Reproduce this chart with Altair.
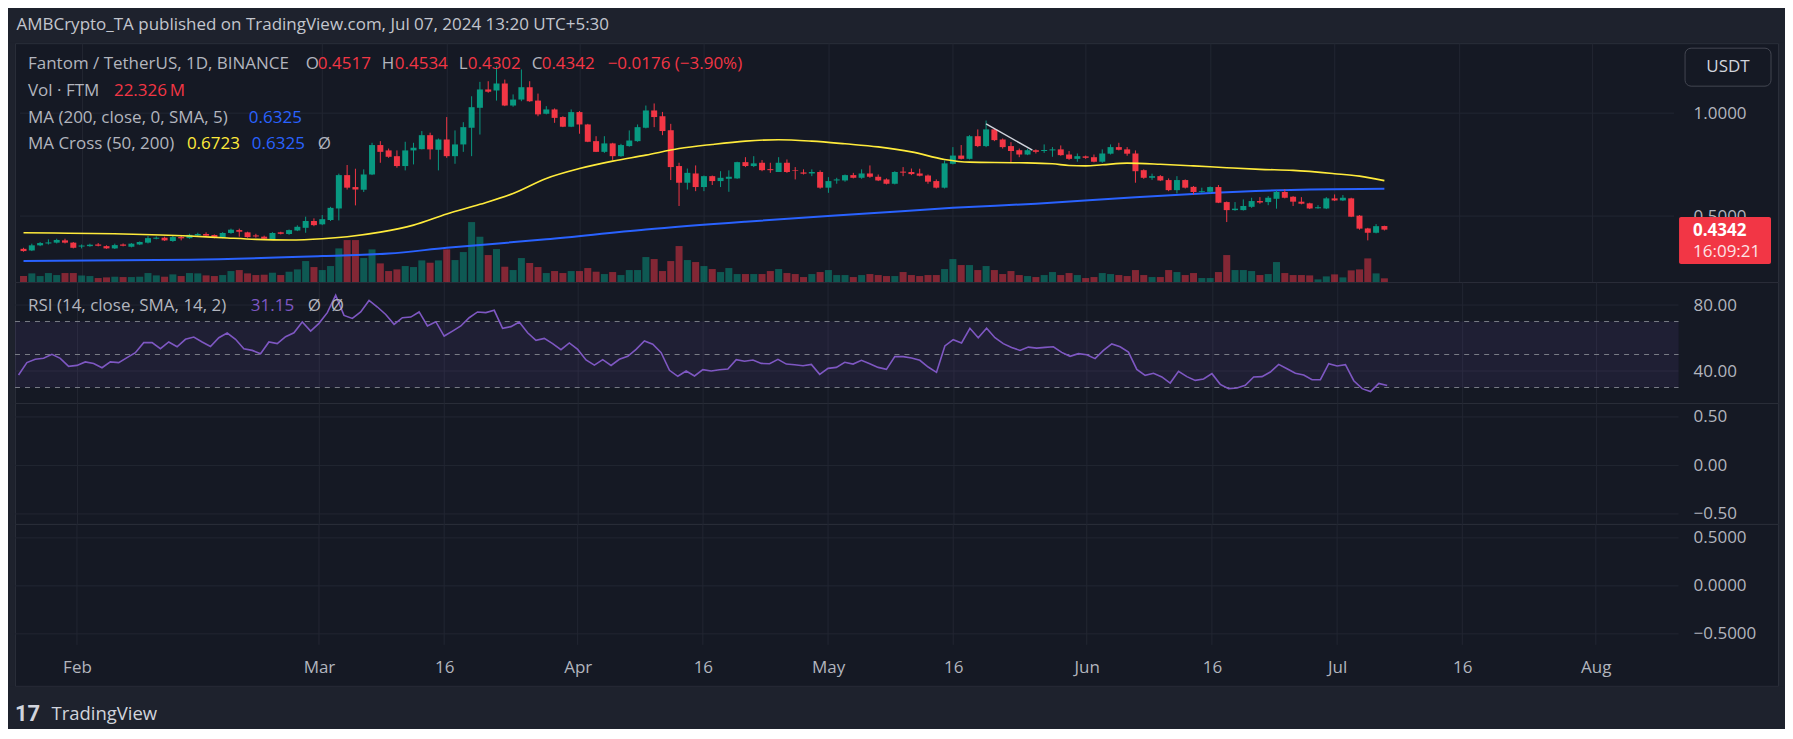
import altair as alt
import pandas as pd

# ---------------- data ----------------
START_DATE = "2024-01-25"

OPEN = [
    0.341, 0.333, 0.358, 0.367, 0.371, 0.382, 0.371, 0.352, 0.354, 0.362,
    0.354, 0.343, 0.362, 0.351, 0.362, 0.371, 0.390, 0.395, 0.379, 0.398,
    0.393, 0.406, 0.413, 0.408, 0.395, 0.418, 0.432, 0.421, 0.406, 0.400,
    0.387, 0.421, 0.413, 0.430, 0.443, 0.476, 0.460, 0.481, 0.537, 0.699,
    0.641, 0.628, 0.702, 0.845, 0.819, 0.791, 0.743, 0.819, 0.825, 0.893,
    0.822, 0.872, 0.791, 0.848, 0.929, 1.026, 1.115, 1.110, 1.144, 1.037,
    1.066, 1.126, 1.061, 0.997, 1.018, 0.981, 0.934, 1.005, 0.945, 0.864,
    0.812, 0.853, 0.791, 0.840, 0.864, 0.929, 1.013, 0.985, 0.917, 0.743,
    0.662, 0.707, 0.641, 0.694, 0.670, 0.681, 0.683, 0.762, 0.743, 0.759,
    0.728, 0.714, 0.759, 0.723, 0.712, 0.707, 0.714, 0.638, 0.673, 0.673,
    0.699, 0.686, 0.707, 0.691, 0.678, 0.657, 0.716, 0.714, 0.707, 0.697,
    0.670, 0.638, 0.754, 0.794, 0.778, 0.888, 0.840, 0.921, 0.872, 0.840,
    0.820, 0.799, 0.820, 0.816, 0.819, 0.824, 0.799, 0.778, 0.790, 0.786,
    0.764, 0.803, 0.835, 0.824, 0.804, 0.723, 0.686, 0.694, 0.675, 0.626,
    0.675, 0.642, 0.617, 0.618, 0.641, 0.568, 0.529, 0.529, 0.545, 0.573,
    0.568, 0.584, 0.617, 0.594, 0.570, 0.562, 0.538, 0.537, 0.586, 0.576,
    0.586, 0.502, 0.440, 0.419, 0.4517]

CLOSE = [
    0.330, 0.358, 0.369, 0.372, 0.384, 0.371, 0.346, 0.357, 0.361, 0.356,
    0.343, 0.359, 0.356, 0.366, 0.374, 0.393, 0.395, 0.382, 0.398, 0.392,
    0.409, 0.413, 0.405, 0.395, 0.418, 0.434, 0.424, 0.398, 0.401, 0.390,
    0.418, 0.414, 0.432, 0.448, 0.476, 0.456, 0.485, 0.540, 0.699, 0.638,
    0.629, 0.702, 0.845, 0.812, 0.788, 0.743, 0.819, 0.832, 0.893, 0.824,
    0.872, 0.791, 0.848, 0.932, 1.029, 1.115, 1.104, 1.144, 1.037, 1.066,
    1.126, 1.058, 0.994, 1.018, 0.977, 0.934, 1.005, 0.945, 0.861, 0.812,
    0.853, 0.791, 0.845, 0.867, 0.932, 1.013, 0.981, 0.913, 0.738, 0.662,
    0.710, 0.641, 0.694, 0.670, 0.686, 0.691, 0.762, 0.743, 0.756, 0.723,
    0.723, 0.759, 0.714, 0.720, 0.706, 0.714, 0.638, 0.670, 0.678, 0.699,
    0.686, 0.707, 0.691, 0.673, 0.657, 0.714, 0.711, 0.704, 0.696, 0.667,
    0.638, 0.756, 0.794, 0.778, 0.888, 0.840, 0.921, 0.869, 0.835, 0.816,
    0.799, 0.820, 0.812, 0.821, 0.824, 0.796, 0.778, 0.791, 0.783, 0.764,
    0.804, 0.835, 0.822, 0.803, 0.718, 0.686, 0.694, 0.673, 0.626, 0.675,
    0.638, 0.617, 0.621, 0.641, 0.565, 0.529, 0.536, 0.549, 0.573, 0.566,
    0.589, 0.617, 0.589, 0.570, 0.560, 0.537, 0.543, 0.586, 0.576, 0.589,
    0.497, 0.439, 0.419, 0.451, 0.4342]

HIGH = [
    0.346, 0.366, 0.374, 0.387, 0.390, 0.390, 0.374, 0.362, 0.366, 0.369,
    0.358, 0.366, 0.367, 0.369, 0.377, 0.403, 0.401, 0.400, 0.405, 0.405,
    0.414, 0.419, 0.421, 0.411, 0.422, 0.439, 0.439, 0.424, 0.414, 0.405,
    0.422, 0.424, 0.435, 0.455, 0.497, 0.489, 0.505, 0.545, 0.706, 0.748,
    0.730, 0.727, 0.856, 0.864, 0.828, 0.819, 0.861, 0.856, 0.913, 0.905,
    0.877, 0.981, 0.916, 0.956, 1.082, 1.152, 1.155, 1.228, 1.163, 1.091,
    1.212, 1.155, 1.095, 1.034, 1.023, 0.985, 1.018, 1.010, 0.948, 0.888,
    0.888, 0.856, 0.851, 0.916, 0.945, 1.037, 1.047, 1.006, 0.948, 0.759,
    0.731, 0.746, 0.697, 0.697, 0.718, 0.722, 0.764, 0.786, 0.791, 0.772,
    0.759, 0.786, 0.775, 0.738, 0.727, 0.727, 0.722, 0.689, 0.686, 0.702,
    0.710, 0.727, 0.746, 0.702, 0.683, 0.718, 0.738, 0.731, 0.730, 0.702,
    0.678, 0.770, 0.835, 0.845, 0.893, 0.921, 0.964, 0.924, 0.877, 0.859,
    0.828, 0.827, 0.824, 0.848, 0.835, 0.843, 0.816, 0.804, 0.794, 0.799,
    0.824, 0.848, 0.856, 0.835, 0.819, 0.727, 0.706, 0.699, 0.683, 0.694,
    0.678, 0.646, 0.638, 0.644, 0.651, 0.571, 0.568, 0.581, 0.589, 0.592,
    0.597, 0.625, 0.630, 0.597, 0.592, 0.565, 0.553, 0.592, 0.605, 0.602,
    0.589, 0.505, 0.443, 0.461, 0.4534]

LOW = [
    0.327, 0.330, 0.354, 0.362, 0.367, 0.367, 0.343, 0.343, 0.351, 0.353,
    0.341, 0.340, 0.353, 0.348, 0.359, 0.367, 0.387, 0.379, 0.375, 0.382,
    0.390, 0.403, 0.401, 0.392, 0.392, 0.414, 0.400, 0.395, 0.395, 0.387,
    0.384, 0.411, 0.409, 0.427, 0.419, 0.451, 0.456, 0.476, 0.479, 0.629,
    0.552, 0.617, 0.699, 0.759, 0.783, 0.735, 0.722, 0.751, 0.824, 0.775,
    0.722, 0.783, 0.754, 0.812, 0.791, 0.896, 1.099, 1.061, 1.034, 1.031,
    1.058, 1.055, 0.985, 0.994, 0.953, 0.932, 0.932, 0.900, 0.859, 0.811,
    0.807, 0.773, 0.788, 0.837, 0.861, 0.926, 0.932, 0.893, 0.675, 0.549,
    0.629, 0.621, 0.621, 0.651, 0.641, 0.618, 0.681, 0.738, 0.738, 0.718,
    0.710, 0.714, 0.710, 0.678, 0.702, 0.694, 0.633, 0.613, 0.657, 0.667,
    0.683, 0.681, 0.686, 0.670, 0.654, 0.654, 0.694, 0.699, 0.693, 0.657,
    0.634, 0.634, 0.751, 0.775, 0.775, 0.835, 0.835, 0.864, 0.828, 0.762,
    0.786, 0.796, 0.804, 0.807, 0.788, 0.793, 0.773, 0.764, 0.778, 0.761,
    0.759, 0.799, 0.819, 0.793, 0.662, 0.681, 0.676, 0.670, 0.621, 0.610,
    0.634, 0.605, 0.613, 0.613, 0.563, 0.471, 0.526, 0.527, 0.540, 0.560,
    0.553, 0.536, 0.586, 0.549, 0.557, 0.534, 0.536, 0.534, 0.573, 0.573,
    0.495, 0.434, 0.382, 0.416, 0.4302]

VOLUME = [  # millions of FTM
    36, 52, 36, 54, 42, 54, 54, 40, 36, 24,
    28, 32, 30, 30, 32, 54, 40, 32, 46, 36,
    54, 52, 40, 36, 42, 66, 72, 52, 42, 44,
    56, 42, 62, 76, 126, 90, 72, 96, 202, 252,
    252, 144, 196, 112, 66, 76, 96, 90, 130, 116,
    130, 196, 132, 180, 360, 272, 162, 198, 92, 72,
    144, 114, 90, 54, 66, 54, 66, 66, 84, 62,
    48, 60, 42, 72, 72, 150, 138, 66, 126, 216,
    132, 120, 96, 78, 60, 84, 48, 48, 48, 48,
    66, 78, 54, 48, 30, 48, 60, 72, 42, 42,
    30, 42, 48, 42, 36, 36, 60, 42, 36, 42,
    42, 78, 138, 102, 102, 72, 96, 72, 48, 66,
    42, 36, 30, 42, 60, 42, 54, 42, 24, 30,
    54, 48, 42, 36, 72, 42, 30, 30, 72, 60,
    42, 54, 24, 24, 60, 162, 72, 72, 66, 42,
    48, 120, 54, 42, 42, 40, 16, 34, 46, 28,
    70, 76, 142, 52, 22.326]

RSI = [
    37.6, 45.1, 47.1, 47.7, 50.1, 47.7, 42.8, 43.4, 45.5, 44.6,
    42.0, 45.5, 45.1, 48.1, 51.1, 57.2, 57.2, 53.5, 57.6, 54.7,
    59.2, 60.6, 57.6, 54.9, 60.2, 63.0, 59.2, 53.5, 52.5, 50.5,
    57.6, 56.6, 60.8, 63.2, 69.7, 64.2, 68.9, 75.4, 85.9, 73.7,
    71.9, 75.8, 82.8, 78.8, 74.3, 68.3, 72.3, 72.7, 75.8, 67.3,
    69.9, 61.2, 64.2, 67.3, 72.3, 75.8, 75.4, 76.8, 65.9, 66.9,
    69.7, 63.2, 58.6, 59.8, 56.6, 52.9, 57.0, 53.1, 46.7, 43.6,
    46.9, 43.4, 47.1, 48.9, 53.1, 58.2, 56.2, 51.1, 40.4, 36.8,
    40.0, 37.0, 40.8, 40.0, 40.8, 41.2, 46.9, 45.9, 46.7, 44.6,
    44.4, 47.1, 44.2, 43.8, 43.2, 44.0, 38.0, 41.6, 42.2, 45.3,
    44.2, 46.5, 44.4, 42.2, 41.0, 48.7, 48.7, 47.9, 46.5, 42.4,
    39.2, 55.2, 59.0, 57.0, 65.9, 60.2, 65.9, 60.2, 56.6, 54.3,
    52.5, 54.5, 53.9, 54.3, 54.7, 51.3, 48.9, 50.5, 49.9, 47.5,
    52.5, 56.4, 54.7, 51.5, 41.0, 37.4, 38.6, 36.4, 32.7, 39.8,
    36.6, 34.3, 35.2, 38.4, 31.9, 29.3, 29.7, 31.3, 36.4, 36.6,
    39.4, 44.0, 41.4, 38.6, 37.6, 34.7, 34.7, 44.4, 43.0, 43.8,
    34.1, 29.3, 27.5, 32.5, 31.15]

# moving averages read at sample candles (index into the candle list)
MA50_IDX = [0, 12, 20, 24, 28, 32, 36, 39, 43, 47, 51, 55, 59, 63, 67, 71, 75, 79, 83, 87,
            91, 95, 99, 103, 107, 111, 114, 120, 124, 126, 128, 130, 133, 137, 141, 145,
            149, 153, 158, 161, 164]
MA50_VAL = [0.419, 0.413, 0.403, 0.395, 0.387, 0.384, 0.390, 0.400, 0.422, 0.456, 0.510,
            0.557, 0.610, 0.683, 0.731, 0.767, 0.796, 0.828, 0.848, 0.864, 0.871, 0.864,
            0.851, 0.836, 0.812, 0.775, 0.762, 0.759, 0.754, 0.746, 0.744, 0.749, 0.757,
            0.752, 0.744, 0.735, 0.727, 0.722, 0.706, 0.694, 0.6723]
MA200_IDX = [0, 20, 36, 44, 51, 63, 75, 87, 103, 112, 122, 134, 142, 155, 164]
MA200_VAL = [0.282, 0.288, 0.306, 0.318, 0.346, 0.387, 0.435, 0.473, 0.516, 0.540, 0.560,
             0.592, 0.610, 0.629, 0.6325]

TREND_DATES = ["2024-05-20T00:00:00Z", "2024-05-25T14:00:00Z"]
TREND_PRICE = [0.948, 0.820]

X_TICKS = ["2024-02-01", "2024-03-01", "2024-03-16", "2024-04-01", "2024-04-16", "2024-05-01",
           "2024-05-16", "2024-06-01", "2024-06-16", "2024-07-01", "2024-07-16", "2024-08-01"]
PRICE_TICKS = [1.0, 0.5]
RSI_TICKS = [80, 40]
RSI_LEVELS = [70, 50, 30]
OSC_TICKS = [0.5, 0.0, -0.5]

# ---------------- tables ----------------
DATES = pd.date_range(START_DATE, periods=len(CLOSE), freq="D").strftime("%Y-%m-%d").tolist()
df = pd.DataFrame({"date": DATES, "open": OPEN, "high": HIGH, "low": LOW,
                   "close": CLOSE, "volume": VOLUME, "rsi": RSI})
df["dir"] = ["up" if c >= o else "down" for o, c in zip(OPEN, CLOSE)]
ma50_df = pd.DataFrame({"date": [DATES[i] for i in MA50_IDX], "value": MA50_VAL})
ma200_df = pd.DataFrame({"date": [DATES[i] for i in MA200_IDX], "value": MA200_VAL})
trend_df = pd.DataFrame({"date": TREND_DATES, "price": TREND_PRICE})

# ---------------- style ----------------
BG = "#1e222d"
PANE = "#151924"
GRID = "#222632"
SEP = "#2a2e39"
LEG = "#b2b5be"
HEAD = "#c3c6ce"
AX = "#b2b5be"
UP = "#089981"
DOWN = "#f23645"
YEL = "#ffeb3b"
BLUE = "#2962ff"
PURP = "#7e57c2"
FONT = "Open Sans"

W = 1764
H_A, H_B, H_C, H_D = 239, 121, 121, 162


def dt(s):
    y, m, d = s[:10].split("-")
    return alt.DateTime(year=int(y), month=int(m), date=int(d), utc=True)


XSCALE = alt.Scale(type="utc", domain=[
    alt.DateTime(year=2024, month=1, date=24, hours=13, minutes=48, utc=True),
    alt.DateTime(year=2024, month=8, date=22, hours=20, utc=True)])
XVALS = [dt(s) for s in X_TICKS]
GRID_START = "2024-01-24T13:48:00Z"
GRID_END = "2024-08-10T22:00:00Z"

AX_X_GRID = alt.Axis(values=XVALS, grid=True, gridColor=GRID, gridWidth=1, labels=False,
                     ticks=False, domain=False, title=None)
AX_X_LAB = alt.Axis(values=XVALS, grid=False, labels=True, ticks=False, tickSize=0, domain=False,
                    title=None, offset=-41, labelPadding=23, labelBaseline="middle",
                    labelExpr="utcdate(datum.value) == 1 ? utcFormat(datum.value, '%b') : utcFormat(datum.value, '%-d')",
                    labelColor=AX, labelFont=FONT, labelFontSize=17, labelFlush=False,
                    labelOverlap=False)


def yaxis(vals, fmt):
    return alt.Axis(values=vals, format=fmt, orient="right", offset=-99, labelPadding=14,
                    ticks=False, domain=False, grid=False, title=None, labelColor=AX,
                    labelFont=FONT, labelFontSize=17, labelBaseline="middle",
                    labelFlush=False, labelOverlap=False)


PRICE_SCALE = alt.Scale(domain=[0.1796, 1.3398], nice=False, zero=False)
VOL_SCALE = alt.Scale(domain=[0, 1434], nice=False, zero=True)
RSI_SCALE = alt.Scale(domain=[20.61, 93.94], nice=False, zero=False)
OSC_SCALE = alt.Scale(domain=[-0.603, 0.644], nice=False, zero=False)
OSC2_SCALE = alt.Scale(domain=[-1.0417, 0.6458], nice=False, zero=False)
DIR_SCALE = alt.Scale(domain=["up", "down"], range=[UP, DOWN])


def txt(text, x, y, color=LEG, size=17, weight="normal", align="left", font=FONT):
    return (alt.Chart(pd.DataFrame({"t": [text]}))
            .mark_text(align=align, baseline="middle", font=font, fontSize=size,
                       fontWeight=weight, color=color)
            .encode(x=alt.value(x), y=alt.value(y), text="t:N"))


def box(x, x2, y, y2, fill, stroke=None, radius=0):
    kw = dict(fill=fill, cornerRadius=radius)
    if stroke is not None:
        kw.update(stroke=stroke, strokeWidth=1)
    return (alt.Chart(pd.DataFrame({"a": [0]})).mark_rect(**kw)
            .encode(x=alt.value(x), x2=alt.value(x2), y=alt.value(y), y2=alt.value(y2)))


def hgrid(levels, yscale, axis, xaxis):
    d = pd.DataFrame({"level": levels, "x0": GRID_START, "x1": GRID_END})
    return (alt.Chart(d).mark_rule(color=GRID, strokeWidth=1)
            .encode(x=alt.X("x0:T", scale=XSCALE, axis=xaxis), x2=alt.X2("x1"),
                    y=alt.Y("level:Q", scale=yscale, axis=axis)))


def X(field="date"):
    return alt.X(f"{field}:T", scale=XSCALE, axis=AX_X_GRID)


def PY(field):
    return alt.Y(f"{field}:Q", scale=PRICE_SCALE, axis=None)


COLOR = alt.Color("dir:N", scale=DIR_SCALE, legend=None)

# ---------------- pane A: price + volume ----------------
gridA = hgrid(PRICE_TICKS, PRICE_SCALE, yaxis(PRICE_TICKS, ".4f"), AX_X_GRID)
vol = (alt.Chart(df).mark_bar(size=7, opacity=0.5)
       .encode(x=X(), y=alt.Y("volume:Q", scale=VOL_SCALE, axis=None), color=COLOR))
ma200 = (alt.Chart(ma200_df).mark_line(color=BLUE, strokeWidth=2, interpolate="monotone")
         .encode(x=X(), y=PY("value")))
ma50 = (alt.Chart(ma50_df).mark_line(color=YEL, strokeWidth=1.6, interpolate="monotone")
        .encode(x=X(), y=PY("value")))
wicks = (alt.Chart(df).mark_rule(strokeWidth=1)
         .encode(x=X(), y=PY("low"), y2=alt.Y2("high"), color=COLOR))
bodies = (alt.Chart(df).mark_bar(size=6)
          .encode(x=X(), y=PY("open"), y2=alt.Y2("close"), color=COLOR))
trend = (alt.Chart(trend_df).mark_line(color="#d1d4dc", strokeWidth=1.5)
         .encode(x=X(), y=PY("price")))

textsA = [
    box(-6, 1770, -34, -1, BG),
    txt("AMBCrypto_TA published on TradingView.com, Jul 07, 2024 13:20 UTC+5:30", 1.5, -18, HEAD),
    txt("Fantom / TetherUS, 1D, BINANCE", 13, 21),
    txt("O", 291, 21), txt("0.4517", 303, 21, DOWN),
    txt("H", 367, 21), txt("0.4534", 380, 21, DOWN),
    txt("L", 444, 21), txt("0.4302", 453, 21, DOWN),
    txt("C", 517, 21), txt("0.4342", 527, 21, DOWN),
    txt("\u22120.0176 (\u22123.90%)", 593, 21, DOWN),
    txt("Vol \u00b7 FTM", 13, 48), txt("22.326\u2009M", 99, 48, DOWN),
    txt("MA (200, close, 0, SMA, 5)", 13, 75), txt("0.6325", 234, 75, BLUE),
    txt("MA Cross (50, 200)", 13, 101), txt("0.6723", 172, 101, YEL),
    txt("0.6325", 237, 101, BLUE), txt("\u00d8", 303, 101),
    box(1671, 1757, 5, 43, PANE, stroke="#434651", radius=6),
    txt("USDT", 1714, 24, "#d1d4dc", align="center"),
    box(1665, 1757, 174, 221, DOWN, radius=2),
    txt("0.4342", 1679, 188, "#ffffff", weight="bold"),
    txt("16:09:21", 1679, 209, "#fde3e5"),
]

price_group = alt.layer(ma200, wicks, bodies, ma50, trend, *textsA)
paneA = (alt.layer(gridA, vol, price_group).resolve_scale(y="independent")
         .properties(width=W, height=H_A))

# ---------------- pane B: RSI ----------------
RSI_AXIS = yaxis(RSI_TICKS, ".2f")


def RY(field):
    return alt.Y(f"{field}:Q", scale=RSI_SCALE, axis=RSI_AXIS)


gridB = hgrid(RSI_TICKS, RSI_SCALE, RSI_AXIS, AX_X_GRID)
band_df = pd.DataFrame({"x0": [GRID_START], "x1": [GRID_END],
                        "hi": [RSI_LEVELS[0]], "lo": [RSI_LEVELS[-1]]})
band = (alt.Chart(band_df).mark_rect(fill=PURP, fillOpacity=0.1)
        .encode(x=X("x0"), x2=alt.X2("x1"), y=RY("hi"), y2=alt.Y2("lo")))
lvl_df = pd.DataFrame({"level": RSI_LEVELS, "x0": GRID_START, "x1": GRID_END})
levels = (alt.Chart(lvl_df).mark_rule(color="#787b86", strokeWidth=1, strokeDash=[5, 5])
          .encode(x=X("x0"), x2=alt.X2("x1"), y=RY("level")))
rsi_line = (alt.Chart(df).mark_line(color=PURP, strokeWidth=1.6)
            .encode(x=X(), y=RY("rsi")))
paneB = alt.layer(
    gridB, band, levels, rsi_line,
    txt("RSI (14, close, SMA, 14, 2)", 13, 24), txt("31.15", 236, 24, PURP),
    txt("\u00d8", 293, 24), txt("\u00d8", 316, 24),
).properties(width=W, height=H_B)

# ---------------- pane C: empty oscillator ----------------
paneC = alt.layer(
    hgrid(OSC_TICKS, OSC_SCALE, yaxis(OSC_TICKS, ".2f"), AX_X_GRID)
).properties(width=W, height=H_C)

# ---------------- pane D: empty oscillator + time axis ----------------
gridD = hgrid(OSC_TICKS, OSC2_SCALE, yaxis(OSC_TICKS, ".4f"), AX_X_LAB)
vgrid = (alt.Chart(pd.DataFrame({"date": X_TICKS})).mark_rule(color=GRID, strokeWidth=1)
         .encode(x=alt.X("date:T", scale=XSCALE, axis=AX_X_LAB),
                 y=alt.value(0), y2=alt.value(121)))
paneD = alt.layer(
    gridD, vgrid,
    box(-6, 1770, 163, 204, BG),
    txt("17", 0, 190, "#d1d4dc", size=22, weight="bold", font="Roboto"),
    txt("TradingView", 36.5, 190, "#d1d4dc", size=18.5),
).properties(width=W, height=H_D)

chart = (alt.vconcat(paneA, paneB, paneC, paneD, spacing=0, bounds="flush")
         .properties(padding=0, background=BG)
         .configure_view(fill=PANE, stroke=SEP, strokeWidth=1))

chart.save("out.html", embed_options={"renderer": "svg", "actions": False})
